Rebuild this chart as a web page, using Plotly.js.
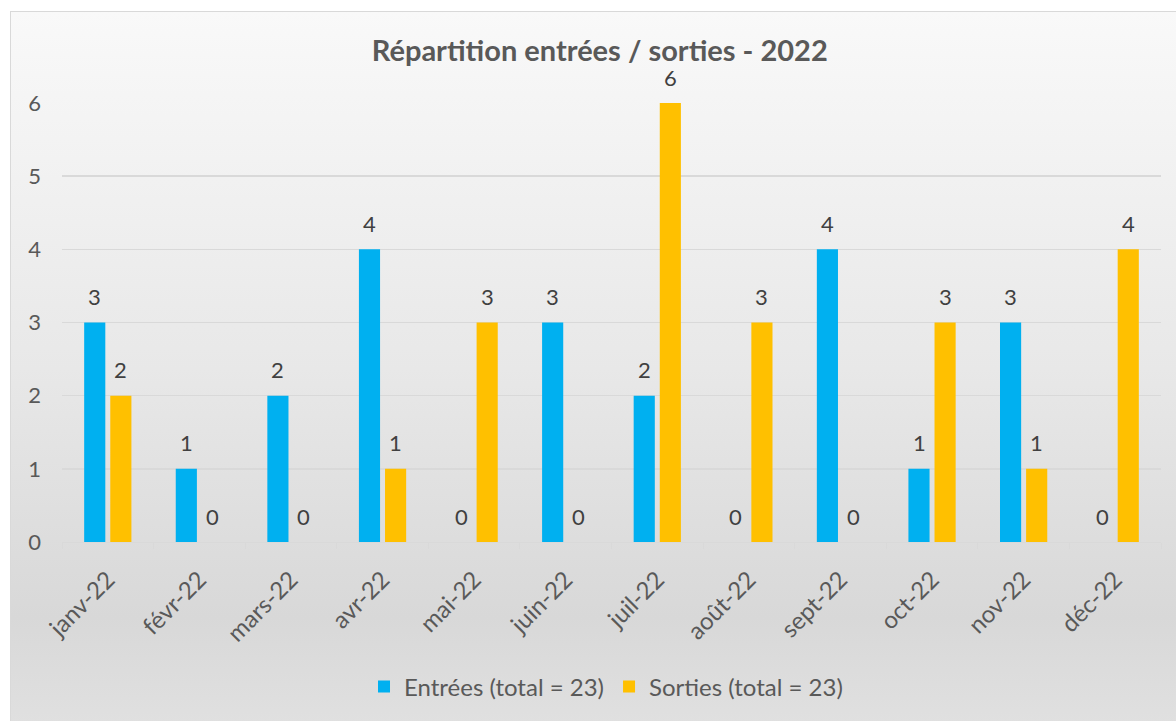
<!DOCTYPE html>
<html>
<head>
<meta charset="utf-8">
<script src="https://cdn.plot.ly/plotly-3.0.1.min.js"></script>
<style>
  html, body { margin: 0; padding: 0; width: 1176px; height: 721px; overflow: hidden; background: #ffffff; }
  #bg { position: absolute; left: 10px; top: 11px; width: 1170px; height: 714px; box-sizing: border-box;
        border: 1px solid #d9d9d9; background: linear-gradient(to bottom, #f9f9f9 0%, #e8e8e8 50%, #d8d8d8 85%, #e0e0e0 100%); }
  #chart { position: absolute; left: 0; top: 0; width: 1176px; height: 721px; }
</style>
</head>
<body>
<div id="bg"></div>
<div id="chart"></div>
<script>
const months = ["janv-22", "févr-22", "mars-22", "avr-22", "mai-22", "juin-22", "juil-22", "août-22", "sept-22", "oct-22", "nov-22", "déc-22"];
const entrees = [3, 1, 2, 4, 0, 3, 2, 0, 4, 1, 3, 0];
const sorties = [2, 0, 0, 1, 3, 0, 6, 3, 0, 3, 1, 4];
const entreesName = "Entrées (total = 23)";
const sortiesName = "Sorties (total = 23)";
const chartTitle = "Répartition entrées / sorties - 2022";

const FONT = "Lato, 'Open Sans', sans-serif";

const traces = [
  { type: "bar", name: entreesName, x: months, y: entrees,
    marker: { color: "#00B0F0" }, hoverinfo: "x+y" },
  { type: "bar", name: sortiesName, x: months, y: sorties,
    marker: { color: "#FFC000" }, hoverinfo: "x+y" }
];

// value labels above each bar, placed through the axes
const annotations = [];
months.forEach((m, i) => {
  annotations.push({ x: m, y: entrees[i], text: String(entrees[i]), xshift: -13, yshift: 26,
    showarrow: false, xanchor: "center", yanchor: "middle", font: { size: 22, color: "#404040", family: FONT } });
  annotations.push({ x: m, y: sorties[i], text: String(sorties[i]), xshift: 13, yshift: 26,
    showarrow: false, xanchor: "center", yanchor: "middle", font: { size: 22, color: "#404040", family: FONT } });
});

const layout = {
  width: 1176, height: 721,
  paper_bgcolor: "rgba(0,0,0,0)", plot_bgcolor: "rgba(0,0,0,0)",
  margin: { l: 62, r: 15, t: 103, b: 179 },
  font: { family: FONT, color: "#595959", size: 22 },
  title: { text: "<b>" + chartTitle + "</b>", x: 0.51, xref: "container", y: 0.93, yref: "container",
           yanchor: "middle", xanchor: "center", font: { size: 29, color: "#595959", family: FONT } },
  barmode: "group", bargap: 0.43, bargroupgap: 0.19,
  xaxis: { type: "category", showgrid: false, showline: true, linecolor: "#d9d9d9", linewidth: 1,
           ticks: "outside", tickson: "boundaries", ticklen: 6, tickcolor: "#d9d9d9",
           tickangle: -45, tickfont: { size: 24, color: "#595959" }, ticklabelstandoff: 13, fixedrange: true },
  yaxis: { range: [0, 6], dtick: 1, showgrid: true, gridcolor: "#d9d9d9", gridwidth: 1.5,
           zeroline: false, showline: false, ticks: "", tickfont: { size: 22, color: "#595959" },
           ticklabelstandoff: 20, fixedrange: true },
  annotations: annotations,
  showlegend: true,
  legend: { orientation: "h", x: 0.495, xanchor: "center", y: -0.33, yanchor: "middle",
            font: { size: 24, color: "#595959" }, bgcolor: "rgba(0,0,0,0)", itemwidth: 30, traceorder: "normal" }
};

Plotly.newPlot("chart", traces, layout, { displayModeBar: false, staticPlot: true });
</script>
</body>
</html>
